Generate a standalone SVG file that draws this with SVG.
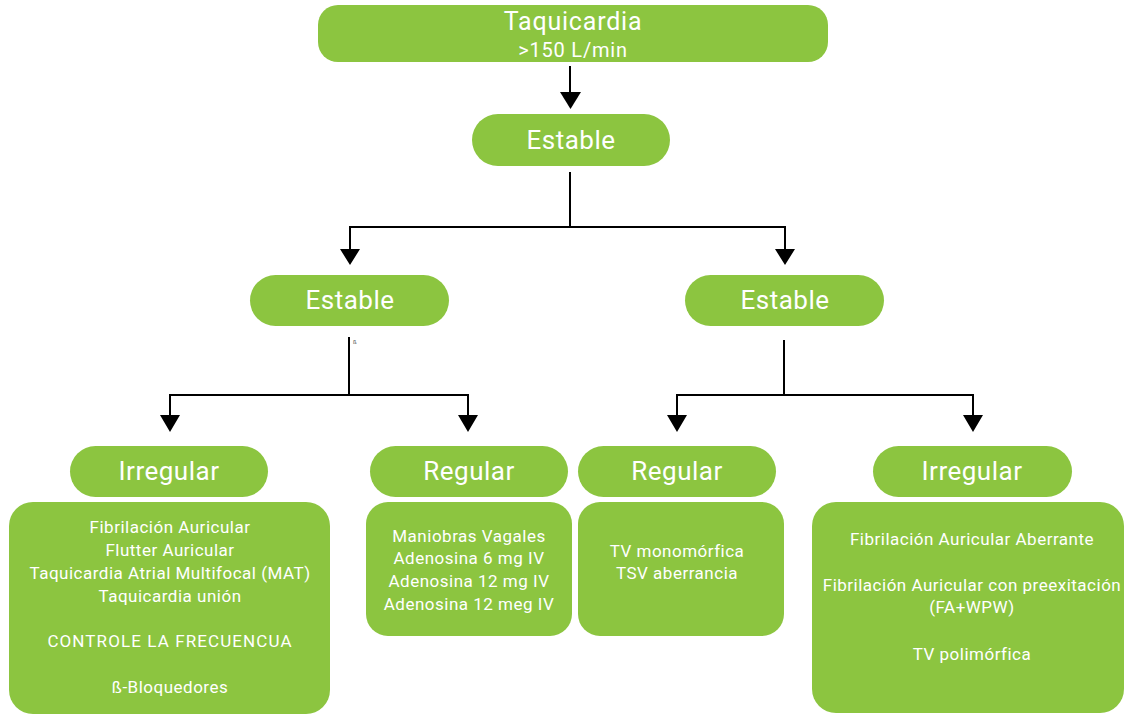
<svg xmlns="http://www.w3.org/2000/svg" width="1127" height="715" viewBox="0 0 1127 715">
<defs>
<style>
.n{fill:#8CC540;}
.t{font-family:Roboto,"Liberation Sans",sans-serif;fill:#fff;text-anchor:middle;}
.p{font-size:26px;letter-spacing:0.5px;}
.b{font-size:17px;letter-spacing:0.5px;}
.c{fill:none;stroke:#000;stroke-width:2;}
.h{fill:#000;}
</style>
</defs>
<rect width="1127" height="715" fill="#fff"/>
<g id="connectors">
<path class="c" d="M570 66 V93"/>
<path class="h" d="M560 92 L581 92 L570.5 109 Z"/>
<path class="c" d="M570 172 V227 M350 227 H785 M350 226 V250 M785 226 V250"/>
<path class="h" d="M340 249 L360 249 L350 265 Z M775 249 L795 249 L785 265 Z"/>
<path class="c" d="M349 337 V395 M170 395 H468 M170 394 V416 M468 394 V416"/>
<path class="h" d="M160 415 L180 415 L170 432 Z M458 415 L478 415 L468 432 Z"/>
<path class="c" d="M784 340 V395 M677 395 H973 M677 394 V416 M973 394 V416"/>
<path class="h" d="M667 415 L687 415 L677 432 Z M963 415 L983 415 L973 432 Z"/>
<text x="353" y="344" font-family="Roboto,'Liberation Sans',sans-serif" font-size="6" fill="#555">ß</text>
</g>
<g id="n-top"><rect class="n" x="318" y="5" width="510" height="57" rx="20"/>
<text class="t" x="573" y="30" font-size="25" letter-spacing="0.8">Taquicardia</text>
<text class="t" x="573" y="57" font-size="20" letter-spacing="0.8">&gt;150 L/min</text></g>
<g id="n-estable"><rect class="n" x="472" y="114" width="198" height="52" rx="26"/>
<text class="t p" x="571" y="149">Estable</text></g>
<g id="n-estable-l"><rect class="n" x="250" y="275" width="199" height="51" rx="25.5"/>
<text class="t p" x="350" y="309">Estable</text></g>
<g id="n-estable-r"><rect class="n" x="685" y="275" width="199" height="51" rx="25.5"/>
<text class="t p" x="785" y="309">Estable</text></g>
<g id="n-irr-l"><rect class="n" x="70" y="446" width="198" height="51" rx="25.5"/>
<text class="t p" x="169" y="480">Irregular</text></g>
<g id="n-reg-l"><rect class="n" x="370" y="446" width="198" height="51" rx="25.5"/>
<text class="t p" x="469" y="480">Regular</text></g>
<g id="n-reg-r"><rect class="n" x="578" y="446" width="198" height="51" rx="25.5"/>
<text class="t p" x="677" y="480">Regular</text></g>
<g id="n-irr-r"><rect class="n" x="873" y="446" width="199" height="51" rx="25.5"/>
<text class="t p" x="972" y="480">Irregular</text></g>
<g id="box-irr-l"><rect class="n" x="9" y="502" width="321" height="212" rx="24"/>
<text class="t b" x="170" y="533">Fibrilación Auricular</text>
<text class="t b" x="170" y="556">Flutter Auricular</text>
<text class="t b" x="170" y="579">Taquicardia Atrial Multifocal (MAT)</text>
<text class="t b" x="170" y="602">Taquicardia unión</text>
<text class="t b" x="170" y="647" style="letter-spacing:1.1px">CONTROLE LA FRECUENCUA</text>
<text class="t b" x="170" y="693">ß-Bloquedores</text></g>
<g id="box-reg-l"><rect class="n" x="366" y="502" width="206" height="134" rx="22"/>
<text class="t b" x="469" y="542">Maniobras Vagales</text>
<text class="t b" x="469" y="564">Adenosina 6 mg IV</text>
<text class="t b" x="469" y="587">Adenosina 12 mg IV</text>
<text class="t b" x="469" y="610">Adenosina 12 meg IV</text></g>
<g id="box-reg-r"><rect class="n" x="578" y="502" width="206" height="134" rx="22"/>
<text class="t b" x="677" y="557">TV monomórfica</text>
<text class="t b" x="677" y="579">TSV aberrancia</text></g>
<g id="box-irr-r"><rect class="n" x="812" y="502" width="312" height="211" rx="24"/>
<text class="t b" x="972" y="545">Fibrilación Auricular Aberrante</text>
<text class="t b" x="972" y="591">Fibrilación Auricular con preexitación</text>
<text class="t b" x="972" y="613">(FA+WPW)</text>
<text class="t b" x="972" y="660">TV polimórfica</text></g>
</svg>
